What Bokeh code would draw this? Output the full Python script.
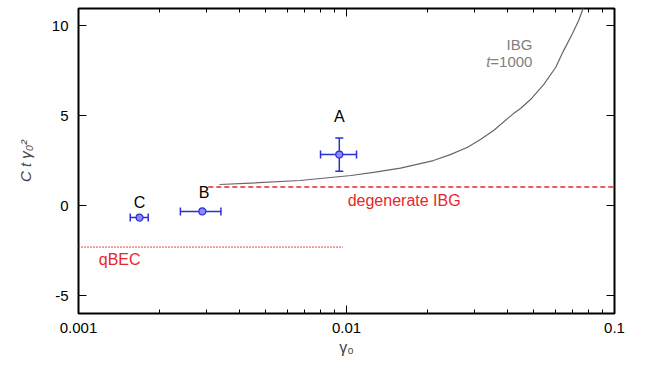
from bokeh.plotting import figure
from bokeh.models import (ColumnDataSource, Whisker, TeeHead, Label, LogAxis, LinearAxis,
                          FixedTicker, CustomJSTickFormatter, Range1d)
from bokeh.embed import file_html
from bokeh.resources import INLINE

# ---- data ----
ibg_x = [0.00336, 0.0044, 0.0067, 0.0104, 0.0128, 0.0159, 0.0211, 0.0244, 0.0283,
         0.0316, 0.0354, 0.042, 0.0446, 0.0486, 0.0544, 0.0603, 0.0646, 0.0697,
         0.0735, 0.0766, 0.08]
ibg_y = [1.17, 1.25, 1.39, 1.67, 1.86, 2.08, 2.5, 2.83, 3.24,
         3.67, 4.17, 5.11, 5.39, 5.89, 6.72, 7.67, 8.61, 9.56,
         10.28, 11.0, 11.6]

pt_names = ["A", "B", "C"]
pt_x = [0.0094, 0.0029, 0.00169]
pt_y = [2.83, -0.33, -0.67]
pt_xlo = [0.0080, 0.0024, 0.00156]
pt_xhi = [0.0109, 0.0034, 0.00182]
a_x = [0.0094]
a_ylo = [1.9]
a_yhi = [3.75]

degen_x = [0.00305, 0.1]
degen_y = [1.03, 1.03]
qbec_x = [0.001, 0.0097]
qbec_y = [-2.31, -2.31]

x_ticks = [0.001, 0.01, 0.1]
x_minor = [k * 10 ** e for e in (-3, -2) for k in range(2, 10)]
y_ticks = [-5, 0, 5, 10]

BLUE = "#2e2ed6"
RED = "#e8262b"
GRAY = "#808080"
FONT = "Liberation Sans"

p = figure(width=645, height=369, x_axis_type="log",
           x_range=Range1d(0.001, 0.1), y_range=Range1d(-6, 10.95),
           output_backend="svg", toolbar_location=None,
           min_border_left=78, min_border_right=31, min_border_top=8, min_border_bottom=56)
p.xgrid.visible = False
p.ygrid.visible = False
p.outline_line_color = "black"
p.outline_line_width = 2
p.background_fill_color = "white"
p.border_fill_color = "white"


def style_axis(ax, labels=True):
    ax.axis_line_color = None
    ax.major_tick_in = 8
    ax.major_tick_out = 0
    ax.minor_tick_in = 4
    ax.minor_tick_out = 0
    ax.major_tick_line_color = "black"
    ax.minor_tick_line_color = "black"
    ax.major_tick_line_width = 1
    ax.minor_tick_line_width = 1
    if labels:
        ax.major_label_text_font = FONT
        ax.major_label_text_font_size = "15px"
        ax.major_label_text_color = "black"
        ax.formatter = CustomJSTickFormatter(code="return String(tick)")
    else:
        ax.major_label_text_font_size = "0px"
        ax.major_label_standoff = 0
        ax.formatter = CustomJSTickFormatter(code="return ''")


xa = p.xaxis[0]
xa.ticker = FixedTicker(ticks=x_ticks, minor_ticks=x_minor)
style_axis(xa)
xa.major_label_standoff = 9
xa.axis_label = "γ₀"
xa.axis_label_text_font = FONT
xa.axis_label_text_font_size = "16px"
xa.axis_label_text_font_style = "normal"
xa.axis_label_standoff = 3

ya = p.yaxis[0]
ya.ticker = FixedTicker(ticks=y_ticks, minor_ticks=[])
style_axis(ya)
ya.major_label_standoff = 10
ya.minor_tick_line_color = None
ya.axis_label = "C t γ₀²"
ya.axis_label_text_font = FONT
ya.axis_label_text_font_size = "15px"
ya.axis_label_text_font_style = "italic"
ya.axis_label_standoff = 15

top = LogAxis(ticker=FixedTicker(ticks=x_ticks, minor_ticks=x_minor))
style_axis(top, labels=False)
p.add_layout(top, "above")
right = LinearAxis(ticker=FixedTicker(ticks=y_ticks, minor_ticks=[]))
style_axis(right, labels=False)
right.minor_tick_line_color = None
p.add_layout(right, "right")

# lines
p.line(ibg_x, ibg_y, line_color="#666666", line_width=1.2)
p.line(degen_x, degen_y, line_color=RED, line_width=1.4, line_dash="5 3")
p.line(qbec_x, qbec_y, line_color=RED, line_width=1.6, line_dash="1 2")

# error bars
src = ColumnDataSource(dict(x=pt_x, y=pt_y, lo=pt_xlo, hi=pt_xhi, name=pt_names))
wx = Whisker(source=src, base="y", lower="lo", upper="hi", dimension="width",
             line_color=BLUE, line_width=1.5, level="underlay",
             upper_head=TeeHead(size=8, line_color=BLUE, line_width=1.5),
             lower_head=TeeHead(size=8, line_color=BLUE, line_width=1.5))
p.add_layout(wx)
srcA = ColumnDataSource(dict(x=a_x, lo=a_ylo, hi=a_yhi))
wy = Whisker(source=srcA, base="x", lower="lo", upper="hi", dimension="height",
             line_color=BLUE, line_width=1.5, level="underlay",
             upper_head=TeeHead(size=8, line_color=BLUE, line_width=1.5),
             lower_head=TeeHead(size=8, line_color=BLUE, line_width=1.5))
p.add_layout(wy)
p.scatter("x", "y", source=src, size=7, fill_color="#8a8af2", line_color=BLUE, line_width=1.2)


# annotations
def lab(x, y, text, color="black", align="left", style="normal", size="16px", **kw):
    p.add_layout(Label(x=x, y=y, text=text, text_color=color, text_align=align,
                       text_baseline="alphabetic", text_font=FONT, text_font_size=size,
                       text_font_style=style, **kw))


lab(0.0094, 4.94, "A", align="center")
lab(0.00294, 0.73, "B", align="center")
lab(0.00169, 0.18, "C", align="center")
lab(0.0101, 0.28, "degenerate IBG", color=RED)
lab(0.00119, -3.0, "qBEC", color=RED)
lab(0.0494, 8.94, "IBG", color=GRAY, align="right", size="15px")
lab(0.0494, 8.0, "=1000", color=GRAY, align="right", size="15px")
lab(0.0494, 8.0, "t", color=GRAY, align="right", style="italic", size="15px", x_offset=-42)

open("out.html", "w").write(file_html(p, INLINE))
